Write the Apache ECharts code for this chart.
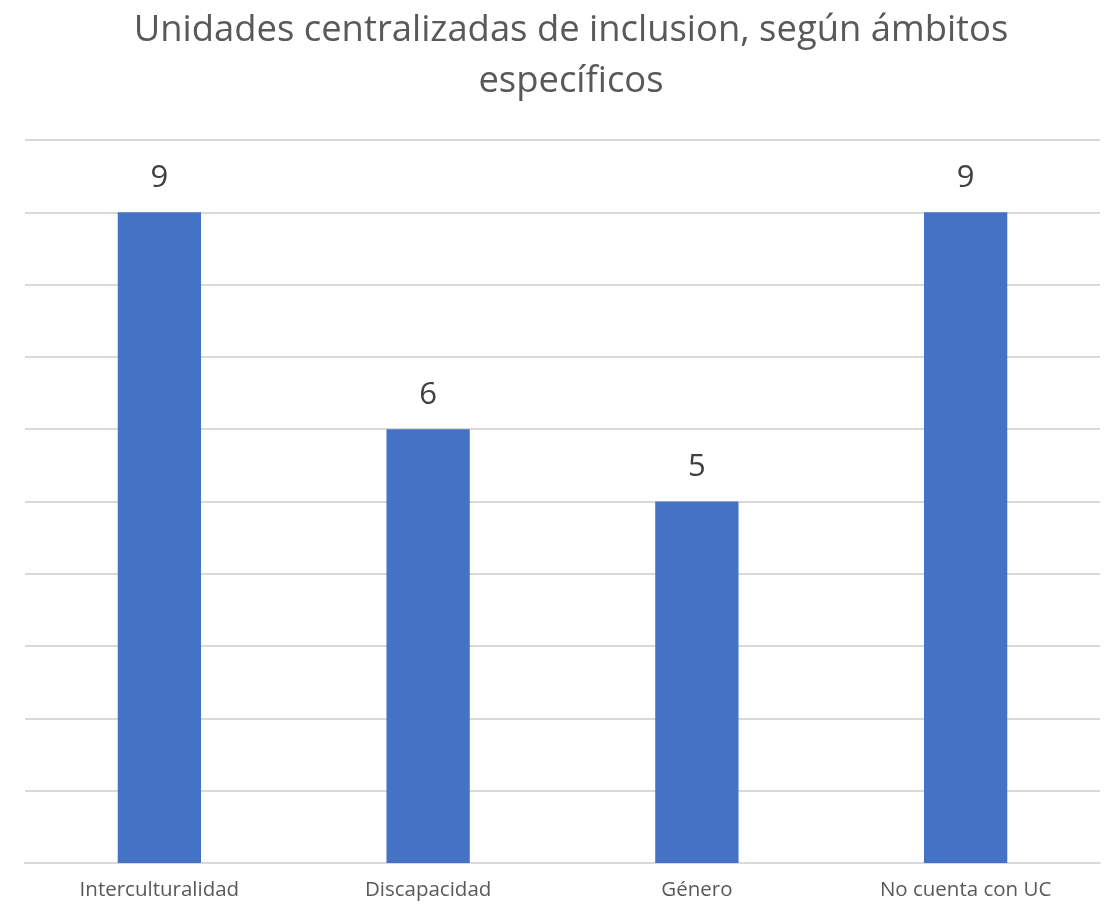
<!DOCTYPE html>
<html>
<head>
<meta charset="utf-8">
<script src="https://cdn.jsdelivr.net/npm/echarts@6/dist/echarts.min.js"></script>
<style>
  html, body { margin: 0; padding: 0; background: #fff; }
  #chart { width: 1106px; height: 905px; }
</style>
</head>
<body>
<div id="chart"></div>
<script>
// datos del gráfico
const categorias = ['Interculturalidad', 'Discapacidad', 'Género', 'No cuenta con UC'];
const valores = [9, 6, 5, 9];

const chart = echarts.init(document.getElementById('chart'));
const option = {
  animation: false,
  title: {
    text: 'Unidades centralizadas de inclusion, según ámbitos\nespecíficos',
    left: 566,
    textAlign: 'center',
    top: 0,
    textStyle: {
      fontFamily: 'Open Sans',
      fontWeight: 'normal',
      fontSize: 36.4,
      color: '#595959',
      lineHeight: 51
    }
  },
  grid: {
    left: 25,
    right: 6,
    top: 140,
    bottom: 42
  },
  xAxis: {
    type: 'category',
    data: categorias,
    axisLine: { lineStyle: { color: '#d9d9d9', width: 2 } },
    axisTick: { show: false },
    axisLabel: {
      fontFamily: 'Open Sans',
      fontSize: 20.5,
      color: '#595959',
      margin: 17
    }
  },
  yAxis: {
    type: 'value',
    min: 0,
    max: 10,
    interval: 1,
    axisLabel: { show: false },
    axisLine: { show: false },
    axisTick: { show: false },
    splitLine: { lineStyle: { color: '#d9d9d9', width: 2 } }
  },
  series: [{
    type: 'bar',
    data: valores,
    barWidth: '31%',
    itemStyle: { color: '#4472c4' },
    label: {
      show: true,
      position: 'top',
      distance: 19,
      fontFamily: 'Open Sans',
      fontSize: 31,
      color: '#404040'
    }
  }]
};
chart.setOption(option);
</script>
</body>
</html>
